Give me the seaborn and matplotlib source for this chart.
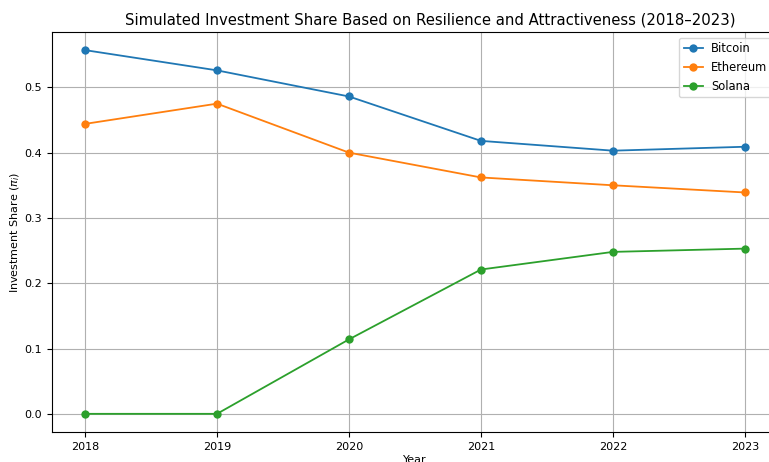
import seaborn as sns
import matplotlib.pyplot as plt
import pandas as pd

years = [2018, 2019, 2020, 2021, 2022, 2023]
bitcoin = [0.557, 0.526, 0.486, 0.418, 0.403, 0.409]
ethereum = [0.444, 0.475, 0.400, 0.362, 0.350, 0.339]
solana = [0.000, 0.000, 0.114, 0.221, 0.248, 0.253]
assets = ['Bitcoin', 'Ethereum', 'Solana']

# long form table for seaborn
rows = []
for name, vals in zip(assets, [bitcoin, ethereum, solana]):
	for y, v in zip(years, vals):
		rows.append({'Year': y, 'Share': v, 'Asset': name})
df = pd.DataFrame(rows)

fig = plt.figure(figsize=(7.69, 4.62), dpi=100)
ax = fig.add_axes([0.0676, 0.0649, 0.944, 0.866])

sns.lineplot(data=df, x='Year', y='Share', hue='Asset', marker='o',
	markersize=6, markeredgewidth=0, linewidth=1.3, ax=ax,
	palette=['#1f77b4', '#ff7f0e', '#2ca02c'])

ax.set_title('Simulated Investment Share Based on Resilience and Attractiveness (2018–2023)',
	fontsize=10.7, pad=5, x=0.521)
ax.set_xlabel('Year', fontsize=8, labelpad=2)
ax.set_ylabel(r'Investment Share ($\pi_i$)', fontsize=8, labelpad=2)
ax.set_xticks(years)
ax.tick_params(labelsize=8)
ax.grid(True, color='#b0b0b0', linewidth=0.8)
ax.legend(loc='upper right', fontsize=8.3, bbox_to_anchor=(1.0, 1.0),
	handlelength=1.7, handletextpad=0.7)

fig.savefig('out.png', dpi=100)
